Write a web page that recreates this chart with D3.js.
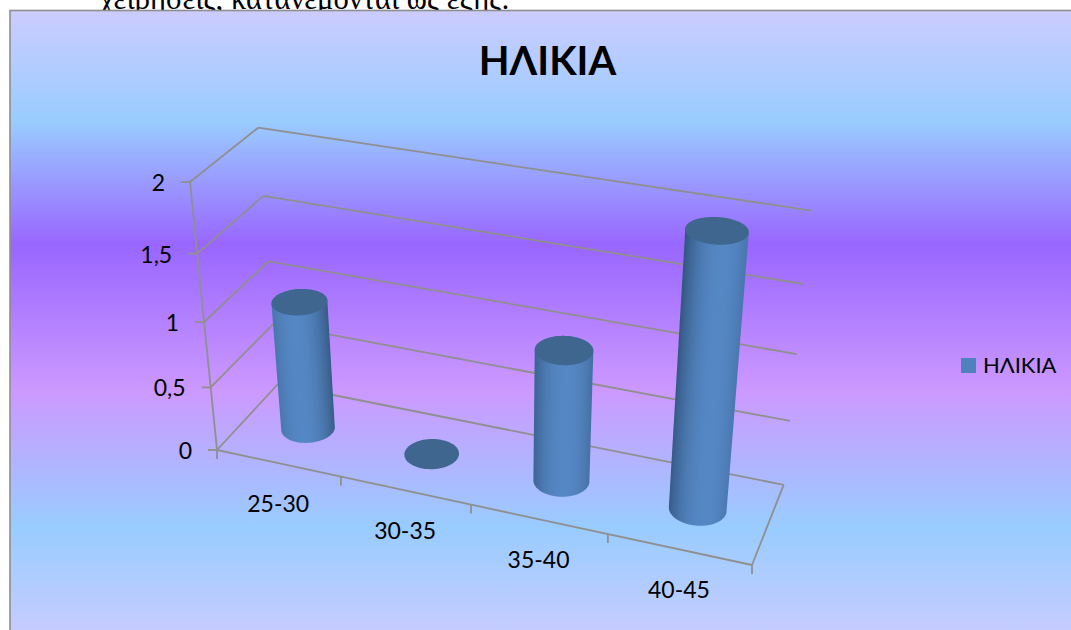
<!DOCTYPE html>
<html>
<head>
  <meta charset="UTF-8">
  <style>
    html, body { margin: 0; padding: 0; background: #fff; overflow: hidden; }
    svg { display: block; }
    text { font-family: Lato, "Open Sans", "Noto Sans", sans-serif; fill: #000; }
  </style>
</head>
<body>
<svg></svg>
<script src="https://d3js.org/d3.v7.min.js"></script>
<script>
const width = 1071, height = 630;

const chartTitle = "ΗΛΙΚΙΑ";
const seriesName = "ΗΛΙΚΙΑ";
const ageGroups = ["25-30", "30-35", "35-40", "40-45"];
const ageValues = [1, 0, 1, 2];
const valueTicks = [0, 0.5, 1, 1.5, 2];
const bodyLine = "χειρήσεις, κατανέμονται ως εξής:";

const svg = d3.select("svg").attr("width", width).attr("height", height);
const defs = svg.append("defs");

// Page text that runs behind the chart object
svg.append("text")
  .attr("x", 100).attr("y", 9)
  .style("font-family", "'Liberation Serif', serif")
  .style("font-size", "30.6px")
  .text(bodyLine);

// Chart area fill
const bg = defs.append("linearGradient").attr("id", "bg")
  .attr("x1", 0).attr("y1", 0).attr("x2", 0).attr("y2", 1);
[[0, "#ccccff"], [0.175, "#99ccff"], [0.37, "#9966ff"], [0.6, "#cc99ff"], [0.815, "#99ccff"], [1, "#ccccff"]]
  .forEach(s => bg.append("stop").attr("offset", s[0]).attr("stop-color", s[1]));

svg.append("rect")
  .attr("x", 10).attr("y", 10.5)
  .attr("width", width + 20).attr("height", height + 4)
  .attr("fill", "url(#bg)")
  .attr("stroke", "#8e8e8e").attr("stroke-width", 1.6);

// Scales work in unit cube space, the camera below takes them to the screen
const xBand = d3.scaleBand().domain(ageGroups).range([0, 1]);
const yScale = d3.scaleLinear().domain([0, 2]).range([0, 1]);

// Perspective camera of the 3D plot box, set by its four anchor corners
const origin = [217, 450], xEnd = [752, 565], yEnd = [190, 182], zEnd = [278, 384];
const persp = { x: -0.096, y: -0.086, z: 0.064 };

function axisVec(end, d) {
  return [end[0] * (1 + d) - origin[0], end[1] * (1 + d) - origin[1]];
}
const ax = axisVec(xEnd, persp.x), ay = axisVec(yEnd, persp.y), az = axisVec(zEnd, persp.z);

function project(u, v, w) {
  const q = 1 + persp.x * u + persp.y * v + persp.z * w;
  return [
    (origin[0] + ax[0] * u + ay[0] * v + az[0] * w) / q,
    (origin[1] + ax[1] * u + ay[1] * v + az[1] * w) / q
  ];
}

const gridColor = "#8f8f8f";
const line3d = d3.line();

function seg(g, a, b) {
  g.append("path")
    .attr("d", line3d([a, b]))
    .attr("fill", "none")
    .attr("stroke", gridColor)
    .attr("stroke-width", 1.8);
}

// Walls: gridlines on the back and side, floor edges, axis ticks
const frame = svg.append("g");
valueTicks.forEach(t => {
  const v = yScale(t);
  seg(frame, project(0, v, 0), project(0, v, 1));
  seg(frame, project(0, v, 1), project(1, v, 1));
  const p = project(0, v, 0);
  seg(frame, p, [p[0] - 9, p[1]]);
});
seg(frame, project(0, 0, 0), project(0, 1, 0));
seg(frame, project(0, 0, 0), project(1, 0, 0));
seg(frame, project(1, 0, 0), project(1, 0, 1));
d3.range(ageGroups.length + 1).forEach(i => {
  const p = project(i / ageGroups.length, 0, 0);
  seg(frame, p, [p[0], p[1] + 9]);
});

// Value axis labels
svg.append("g").selectAll("text")
  .data(valueTicks)
  .join("text")
  .attr("x", d => project(0, yScale(d), 0)[0] - 25)
  .attr("y", d => project(0, yScale(d), 0)[1] + 9)
  .attr("text-anchor", "end")
  .style("font-size", "23px")
  .text(d => String(d).replace(".", ","));

// Category labels
svg.append("g").selectAll("text")
  .data(ageGroups)
  .join("text")
  .attr("x", d => project(xBand(d) + xBand.bandwidth() / 2, 0, 0)[0])
  .attr("y", d => project(xBand(d) + xBand.bandwidth() / 2, 0, 0)[1] + 49)
  .attr("text-anchor", "middle")
  .style("font-size", "23px")
  .text(d => d);

// Cylinders
const capColor = "#3f668f", midColor = "#5587c4", edgeColor = "#30527a";
const radiusU = 0.05, radiusW = 0.2;
const angles = d3.range(0, 2 * Math.PI, Math.PI / 36);

function ring(u, v) {
  return angles.map(a => project(u + radiusU * Math.cos(a), v, 0.5 + radiusW * Math.sin(a)));
}

const bars = svg.append("g");
ageGroups.forEach((name, i) => {
  const u = xBand(name) + xBand.bandwidth() / 2;
  const v = yScale(ageValues[i]);
  const bottom = ring(u, 0), top = ring(u, v);

  if (ageValues[i] > 0) {
    const mid = project(u, v / 2, 0.5);
    const halfWidth = (d3.max(bottom, p => p[0]) - d3.min(bottom, p => p[0])
      + d3.max(top, p => p[0]) - d3.min(top, p => p[0])) / 4;
    const base = project(u, 0, 0.5), head = project(u, v, 0.5);
    const len = Math.hypot(head[0] - base[0], head[1] - base[1]);
    const nx = -(head[1] - base[1]) / len, ny = (head[0] - base[0]) / len;

    // highlight drifts to the right as the bars move along the axis
    const h = 0.36 + 0.3 * u;
    const gradId = "cyl" + i;
    const grad = defs.append("linearGradient").attr("id", gradId)
      .attr("gradientUnits", "userSpaceOnUse")
      .attr("x1", mid[0] - nx * halfWidth).attr("y1", mid[1] - ny * halfWidth)
      .attr("x2", mid[0] + nx * halfWidth).attr("y2", mid[1] + ny * halfWidth);
    const shade = d3.interpolateRgb(midColor, edgeColor);
    d3.range(0, 1.01, 0.1).forEach(t => {
      grad.append("stop").attr("offset", t)
        .attr("stop-color", shade(Math.min(1, Math.pow(Math.abs(t - h) / 0.66, 2.2))));
    });

    bars.append("path")
      .attr("d", line3d(d3.polygonHull(bottom.concat(top))) + "Z")
      .attr("fill", `url(#${gradId})`);
  }

  bars.append("path")
    .attr("d", line3d(top) + "Z")
    .attr("fill", capColor);
});

// Title
svg.append("text")
  .attr("x", 547.5).attr("y", 75)
  .attr("text-anchor", "middle")
  .style("font-size", "40px")
  .style("font-weight", 700)
  .text(chartTitle);

// Legend
svg.append("rect")
  .attr("x", 961).attr("y", 358).attr("width", 15).attr("height", 15)
  .attr("fill", "#4f81bd");
svg.append("text")
  .attr("x", 983).attr("y", 373)
  .style("font-size", "22px")
  .text(seriesName);
</script>
</body>
</html>
